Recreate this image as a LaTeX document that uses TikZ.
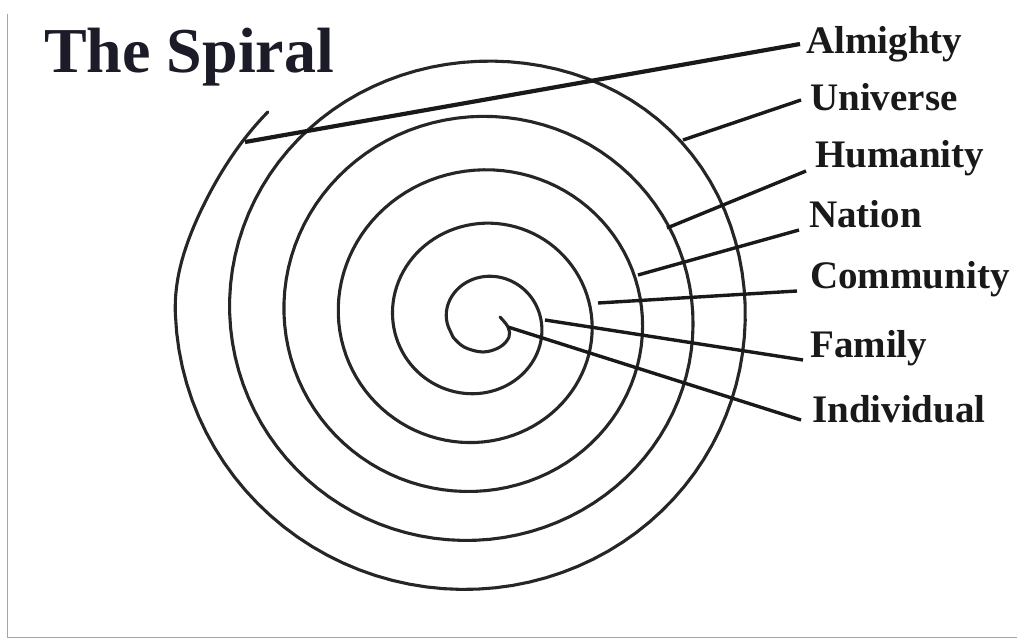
\documentclass[tikz,border=0pt]{standalone}
\usepackage{fontspec}
\setmainfont{Liberation Serif}
\begin{document}
\begin{tikzpicture}[x=1pt,y=-1pt,
  spiral/.style={line width=3.1pt,color=black!85,line cap=round,line join=round},
  conn/.style={line width=3.4pt,color=black!90},
  lbl/.style={anchor=base west,inner sep=0pt,font=\fontsize{39}{39}\selectfont\bfseries,text=black!90},
  edge/.style={line width=1pt,color=black!35}]
\useasboundingbox (0,0) rectangle (1017,640);
\fill[white] (0,0) rectangle (1017,640);
% scan border
\draw[edge] (7,14) -- (7,637) -- (1017,637);
% title
\node[anchor=base west,inner sep=0pt,font=\fontsize{64}{64}\selectfont\bfseries,text={rgb,255:red,28;green,28;blue,40}] (title) at (44,72) {The Spiral};
% spiral
\draw[spiral] plot[smooth,tension=0.6] coordinates {(500,317) (508,327) (509,337) (500,347) (483,352) (464,347) (453,337)}
  -- plot[variable=\t,domain=0.47:5.5,samples=520]
     ({482.7-1.95*\t+(8.2+52.45*\t+8*exp(-((\t-4.88)/0.1)^2))*cos(360*\t)},
      {324.6-2.25*\t+(7.47+51.25*\t+8*exp(-((\t-4.88)/0.1)^2))*sin(360*\t)})
  -- plot[variable=\t,domain=5.5:5.626,samples=40]
     ({482.7-1.95*\t+(8.2+52.45*\t-14*(1-exp(-((\t-5.5)/0.055)^2)))*cos(360*\t)},
      {324.6-2.25*\t+(7.47+51.25*\t-14*(1-exp(-((\t-5.5)/0.055)^2)))*sin(360*\t)});
% labels
\node[lbl] (alm) at (806,53) {Almighty};
\node[lbl] (uni) at (810,110) {Universe};
\node[lbl] (hum) at (815,167) {Humanity};
\node[lbl] (nat) at (809,227) {Nation};
\node[lbl] (com) at (810,288) {Community};
\node[lbl] (fam) at (810,357) {Family};
\node[lbl] (ind) at (812,422) {Individual};
% connector ends
\coordinate (almA) at (245,142); \coordinate (almB) at (800,44);
\coordinate (uniA) at (683,140); \coordinate (uniB) at (801,100);
\coordinate (humA) at (667,228); \coordinate (humB) at (806,171);
\coordinate (natA) at (638,275); \coordinate (natB) at (799,230);
\coordinate (comA) at (598,303); \coordinate (comB) at (797,291);
\coordinate (famA) at (545,320); \coordinate (famB) at (803,360);
\coordinate (indA) at (508,327); \coordinate (indB) at (801,420);
\draw[conn,line width=4.2pt] (almA) -- (almB);
\draw[conn] (uniA) -- (uniB);
\draw[conn] (humA) -- (humB);
\draw[conn] (natA) -- (natB);
\draw[conn] (comA) -- (comB);
\draw[conn] (famA) -- (famB);
\draw[conn] (indA) -- (indB);
\end{tikzpicture}
\end{document}
